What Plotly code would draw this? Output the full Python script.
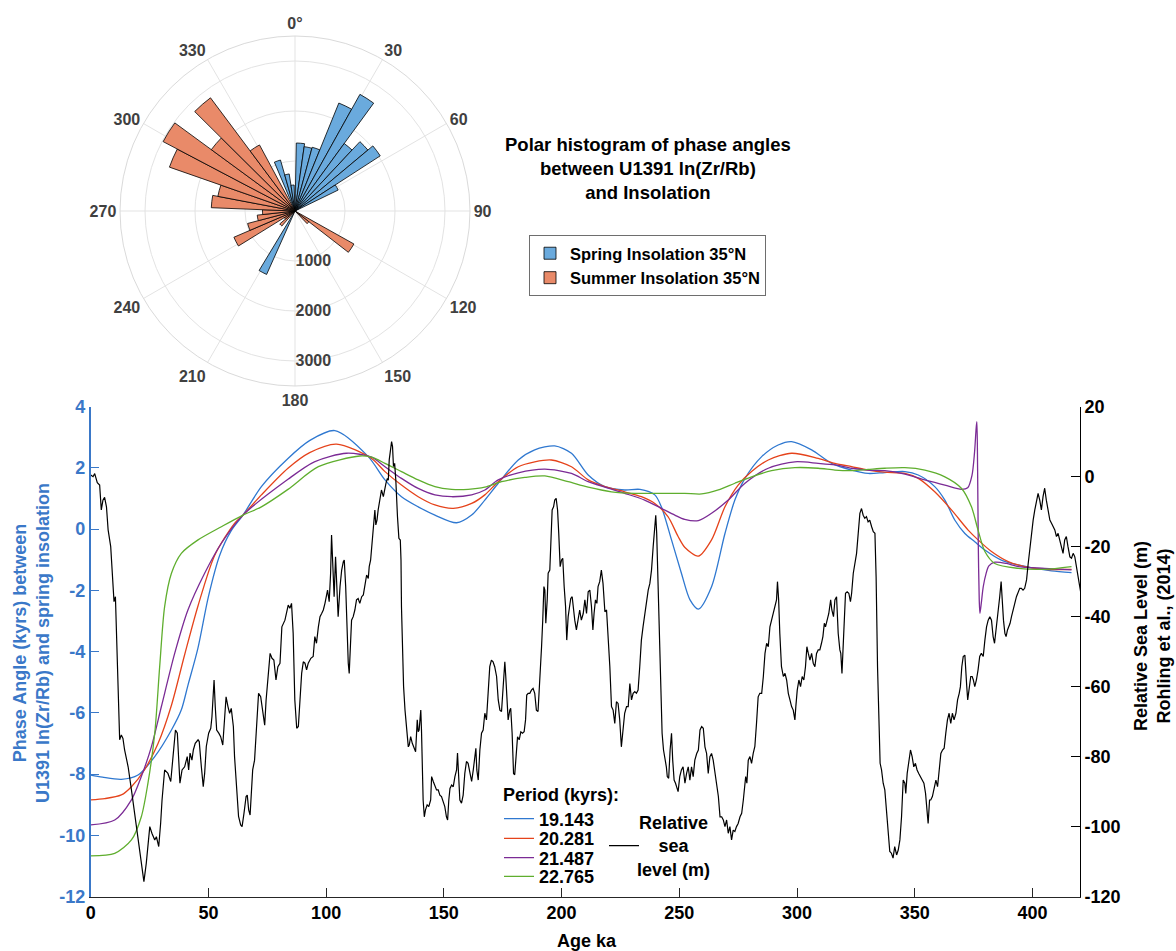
import plotly.graph_objects as go

W, H = 1176, 951
FONT = "Liberation Sans, Arial, Helvetica, sans-serif"
BLUE_AX = "#3a78c8"

# ---------------- polar histogram data (bin centre in degrees, count) ----------------
spring_bin_centers = [340.6, 347.6, 354.6, 4.6, 11.6, 18.6, 25.6, 32.6, 39.6, 46.6, 53.6, 60.6, 207.6]
spring_counts = [1060, 750, 520, 1360, 1300, 1320, 2330, 2670, 1670, 1900, 2030, 960, 1390]
spring_bin_width = 7.0

summer_bin_centers = [123.5, 132.0, 225.5, 234.0, 242.5, 251.0, 259.5, 268.0, 276.5, 285.0,
                      293.5, 302.0, 310.5, 319.0, 327.5]
summer_counts = [1350, 350, 400, 250, 1330, 980, 760, 650, 1675, 1570, 2660, 2980, 2075, 2825, 1500]
summer_bin_width = 8.5

angular_ticks = list(range(0, 360, 30))
angular_labels = ["0°"] + [str(a) for a in angular_ticks[1:]]
radial_ticks = [1000, 2000, 3000]
radial_max = 3500

# ---------------- phase-angle curves (age ka, phase kyrs) ----------------
periods = ["19.143", "20.281", "21.487", "22.765"]
period_colors = ["#2f78d0", "#e5431b", "#7b2b95", "#5fae2e"]

phase_19143 = [(0, -8.03), (5, -8.10), (13, -8.17), (20.1, -8.03), (27.2, -7.43), (34.3, -6.56),
               (38.5, -5.9), (41.3, -5.1), (45.5, -3.9), (50, -2.2), (54.8, -0.85), (59.7, -0.05),
               (64.7, 0.46), (72.5, 1.39), (83.8, 2.31), (93.1, 2.9), (103.7, 3.22), (117.9, 2.37),
               (125, 1.61), (132, 1.06), (139.1, 0.73), (146.2, 0.46), (155.4, 0.21), (161.8, 0.46),
               (167.4, 0.95), (173.1, 1.50), (181.6, 2.26), (188.6, 2.59), (197.1, 2.72), (204.2, 2.48),
               (211.3, 1.77), (218.4, 1.39), (226.8, 1.28), (233.3, 1.30), (239.6, 1.12), (242.4, 0.73),
               (246.7, -0.35), (250.9, -1.44), (254.5, -2.3), (258.1, -2.61), (263.7, -1.88),
               (269.4, -0.14), (273.6, 0.95), (277.9, 1.66), (285, 2.37), (292, 2.75), (297.7, 2.86),
               (306.2, 2.59), (314.7, 2.15), (323.2, 1.93), (330.2, 1.82), (337.3, 1.85), (345.8, 1.88),
               (351.5, 1.77), (358.5, 1.39), (362.8, 0.95), (367, 0.30), (371.3, -0.14), (375.5, -0.41),
               (379.8, -0.68), (386.8, -1.01), (393.9, -1.17), (401, -1.28), (408.1, -1.36), (416.6, -1.42)]

phase_20281 = [(0, -8.84), (6, -8.80), (13, -8.68), (17.3, -8.41), (22.9, -7.85), (28.6, -7.0),
               (34.3, -5.75), (39.9, -4.1), (45.6, -2.5), (52.7, -0.85), (61.1, 0.19), (64.7, 0.46),
               (72.5, 1.12), (83.8, 1.99), (93, 2.5), (104.4, 2.78), (119.3, 2.31), (125, 1.88),
               (132, 1.44), (139.1, 1.06), (146.2, 0.79), (154, 0.68), (161.8, 0.84), (167.4, 1.12),
               (173.1, 1.55), (181.6, 2.04), (188.6, 2.20), (195.7, 2.26), (204.2, 2.04), (211.3, 1.61),
               (218.4, 1.39), (226.8, 1.22), (233.9, 1.06), (239.6, 0.84), (245.2, 0.41), (249.5, -0.24),
               (252.4, -0.6), (258.1, -0.88), (263.7, -0.35), (269.4, 0.73), (275, 1.44), (280.7, 1.88),
               (287.8, 2.26), (297.7, 2.48), (309, 2.31), (316.1, 2.15), (323.2, 2.04), (330.2, 1.93),
               (337.3, 1.86), (345.8, 1.82), (351.5, 1.66), (358.5, 1.22), (365.6, 0.63), (372.7, -0.03),
               (376.9, -0.35), (382.6, -0.73), (389.7, -1.06), (396.7, -1.22), (405.2, -1.31), (416.6, -1.31)]

phase_21487 = [(0, -9.66), (10.2, -9.50), (17.3, -8.84), (21.5, -8.08), (25.8, -7.10), (30, -5.80),
               (35.7, -4.05), (41.3, -2.64), (48.4, -1.44), (55.5, -0.46), (64.7, 0.46), (83.8, 1.63),
               (95, 2.2), (108.7, 2.48), (119.3, 2.35), (125, 2.04), (132, 1.66), (139.1, 1.33),
               (146.2, 1.12), (153.3, 1.06), (161.8, 1.12), (167.4, 1.28), (173.1, 1.61), (181.6, 1.84),
               (192.9, 1.96), (204.2, 1.82), (211.3, 1.55), (218.4, 1.37), (226.8, 1.17), (235.3, 0.95),
               (242.4, 0.68), (248.1, 0.46), (252.3, 0.32), (258.1, 0.28), (263.7, 0.52), (270.8, 0.95),
               (277.9, 1.50), (287.8, 1.99), (299.1, 2.20), (309, 2.15), (316.1, 2.10), (323.2, 1.99),
               (330.2, 1.93), (337.3, 1.91), (345.8, 1.80), (354.3, 1.61), (362.8, 1.44), (369.9, 1.30),
               (372.5, 1.35), (374.3, 1.75), (375.4, 2.5), (376.1, 3.3), (376.4, 3.51), (376.7, 2.0),
               (377.0, -0.5), (377.4, -2.3), (377.7, -2.75), (378.3, -2.4), (379.1, -1.88), (380.3, -1.45),
               (381.5, -1.2), (384, -1.08), (389, -1.12), (393.9, -1.22), (405.2, -1.28), (416.6, -1.33)]

phase_22765 = [(0, -10.67), (10.2, -10.59), (17.3, -10.15), (21.5, -9.39), (24.3, -8.30), (27.2, -6.67),
               (29.3, -4.49), (31.4, -2.53), (34.3, -1.44), (38.5, -0.79), (45.6, -0.35), (55.5, 0.08),
               (64.7, 0.46), (72.5, 0.73), (83.8, 1.30), (96.7, 2.04), (114.3, 2.39), (119.3, 2.35),
               (125, 2.15), (132, 1.88), (139.1, 1.61), (146.2, 1.39), (153.3, 1.30), (160.3, 1.30),
               (167.4, 1.37), (174.5, 1.55), (184.4, 1.69), (192.9, 1.74), (202.8, 1.55), (211.3, 1.37),
               (221.2, 1.22), (231.1, 1.17), (241, 1.17), (252.3, 1.17), (259.5, 1.15), (266.6, 1.28),
               (273.6, 1.50), (280.7, 1.71), (289.2, 1.91), (299.1, 2.01), (309, 1.99), (316.1, 1.93),
               (323.2, 1.91), (330.2, 1.95), (337.3, 1.99), (345.8, 2.01), (354.3, 1.93), (362.8, 1.71),
               (369.9, 1.33), (374.1, 0.73), (376.9, -0.03), (379.8, -0.73), (384, -1.12), (393.9, -1.28),
               (405.2, -1.31), (416.6, -1.22)]

phase_curves = [phase_19143, phase_20281, phase_21487, phase_22765]

# ---------------- relative sea level (age ka, metres) ----------------
sea_level_0_82 = [
    (0.0, 0.5), (1.0, 0.0), (1.7, 0.9), (2.8, -1.7), (3.8, -2.4), (4.5, -9.5), (5.2, -6.7), (5.9, -5.9),
    (6.7, -8.6), (7.4, -15.2), (8.5, -20.0), (9.1, -25.7), (9.9, -35.7), (10.5, -34.3), (10.9, -44.8),
    (11.6, -60.0), (12.3, -75.2), (13.0, -73.8), (13.7, -74.8), (14.4, -78.1), (15.9, -82.9), (17.3, -89.5),
    (18.7, -96.2), (20.1, -102.9), (21.5, -110.5), (22.6, -115.7), (23.6, -110.5), (25.1, -100.0),
    (26.0, -101.9), (27.2, -103.8), (27.9, -102.9), (28.9, -105.7), (29.7, -99.1), (30.3, -92.4),
    (31.4, -83.8), (32.8, -84.8), (34.0, -87.1), (35.0, -79.0), (36.0, -72.4), (36.8, -73.3), (37.4, -81.9),
    (37.9, -87.6), (38.8, -83.8), (39.9, -82.9), (41.0, -80.0), (41.6, -83.8), (42.2, -79.0), (43.0, -81.0),
    (43.6, -78.1), (44.4, -76.2), (45.6, -75.2), (46.1, -75.7), (47.0, -82.9), (47.8, -88.6), (48.4, -84.8),
    (49.1, -77.1), (50.1, -73.3), (51.0, -71.9), (51.5, -68.6), (52.4, -58.1), (52.9, -65.7), (53.5, -72.4),
    (54.4, -73.3), (55.2, -74.3), (56.1, -76.7), (56.9, -69.5), (57.5, -62.9), (58.3, -65.7), (59.0, -67.6),
    (59.7, -66.2), (60.6, -71.4), (61.1, -80.0), (62.0, -90.5), (62.8, -97.1), (63.7, -99.5), (64.3, -100.0),
    (65.1, -96.2), (66.0, -91.4), (66.5, -91.0), (67.1, -95.2), (67.7, -96.7), (68.2, -91.4), (68.8, -83.8),
    (69.6, -81.0), (70.5, -71.4), (71.3, -61.9), (72.2, -62.9), (73.0, -66.7), (73.9, -71.0), (74.5, -63.8),
    (75.3, -57.1), (76.2, -50.5), (77.0, -51.9), (77.8, -52.4), (78.7, -58.1), (79.5, -54.3), (80.4, -53.3),
    (81.2, -42.9)]

sea_level_82_167 = [
    (82.5, -41.0), (83.2, -39.1), (83.9, -36.7), (84.6, -37.6), (85.3, -36.2), (86.0, -44.8), (86.7, -63.8),
    (87.5, -71.9), (88.2, -71.4), (88.9, -63.8), (89.6, -56.2), (90.3, -52.9), (91.0, -53.3), (91.7, -55.2),
    (92.4, -53.3), (93.5, -51.9), (94.5, -51.4), (95.2, -45.7), (95.9, -47.6), (96.7, -42.9), (97.4, -40.0),
    (98.1, -39.1), (98.8, -38.1), (99.5, -36.2), (100.2, -34.3), (100.6, -32.4), (101.3, -35.7),
    (101.9, -27.6), (102.3, -16.7), (103.0, -26.7), (103.4, -34.3), (104.0, -22.9), (104.4, -31.4),
    (105.1, -40.0), (105.9, -31.4), (106.6, -26.7), (107.3, -24.3), (107.7, -23.8), (108.3, -31.4),
    (108.8, -44.8), (109.4, -53.3), (109.8, -56.2), (110.4, -46.7), (110.8, -41.0), (111.5, -40.0),
    (112.2, -38.1), (112.9, -35.2), (113.6, -34.8), (114.3, -36.2), (115.1, -34.3), (115.8, -33.8),
    (116.5, -30.5), (117.2, -28.1), (117.9, -29.1), (118.3, -25.7), (118.9, -23.8), (119.3, -20.0),
    (119.7, -16.2), (120.3, -12.4), (120.7, -9.5), (121.1, -13.8), (121.6, -12.4), (122.1, -9.5),
    (122.8, -6.7), (123.5, -3.8), (124.3, -5.7), (125.0, -2.9), (125.4, -1.9), (126.0, -0.5), (126.4, -1.0),
    (126.8, 4.8), (127.4, 8.6), (127.8, 10.0), (128.2, 8.6), (128.6, 2.9), (129.1, 3.8), (129.6, -1.0),
    (130.3, -11.4), (130.9, -17.6), (131.5, -18.1), (131.8, -23.8), (132.0, -37.1), (132.5, -50.5),
    (132.9, -60.0), (133.5, -66.7), (134.2, -72.4), (134.9, -77.2), (135.3, -76.7), (135.9, -74.3),
    (136.6, -76.2), (137.3, -77.2), (138.0, -78.6), (138.7, -69.5), (139.1, -72.9), (139.5, -72.4),
    (140.2, -66.7), (140.5, -72.4), (140.8, -82.9), (141.2, -92.4), (141.7, -97.2), (142.2, -95.2),
    (142.9, -93.8), (143.6, -94.3), (144.4, -92.4), (144.8, -85.7), (145.5, -87.1), (146.2, -88.6),
    (146.9, -89.5), (147.6, -89.5), (148.3, -91.0), (149.0, -91.4), (149.7, -92.9), (150.4, -94.3),
    (151.1, -97.2), (151.6, -98.1), (152.1, -92.4), (152.6, -89.1), (153.3, -88.1), (154.0, -88.6),
    (154.7, -85.7), (155.4, -83.8), (155.8, -79.0), (156.1, -84.8), (156.8, -92.4), (157.5, -93.3),
    (158.2, -91.0), (158.9, -84.8), (159.6, -81.4), (160.3, -81.9), (161.1, -84.8), (161.8, -87.1),
    (162.5, -83.8), (163.2, -79.0), (163.6, -77.6), (164.0, -83.8), (164.6, -86.7), (165.3, -78.1),
    (166.0, -73.3), (166.7, -72.4), (167.4, -67.6)]

sea_level_168_252 = [
    (168.1, -69.5), (168.8, -61.9), (169.5, -54.3), (170.2, -52.4), (170.9, -52.9), (171.6, -54.3),
    (172.4, -57.1), (173.1, -63.8), (173.8, -66.7), (174.5, -67.1), (175.2, -60.0), (175.9, -52.9),
    (176.3, -57.1), (176.7, -63.8), (177.3, -69.5), (178.0, -66.7), (178.4, -66.2), (179.0, -73.3),
    (179.6, -84.8), (180.1, -85.2), (180.7, -78.1), (181.3, -74.3), (182.0, -75.2), (182.7, -72.9),
    (183.4, -73.3), (184.1, -72.9), (184.7, -69.5), (185.2, -62.4), (185.8, -61.9), (186.5, -61.9),
    (187.2, -61.0), (187.9, -60.5), (188.6, -61.9), (189.3, -66.7), (190.0, -67.1), (190.5, -61.9),
    (190.9, -55.2), (191.5, -48.6), (192.0, -41.0), (192.5, -31.4), (192.9, -32.4), (193.3, -41.9),
    (193.9, -35.2), (194.3, -27.6), (195.0, -26.7), (195.4, -18.1), (196.0, -9.5), (196.6, -8.6),
    (197.1, -6.7), (197.7, -6.2), (198.3, -9.5), (198.8, -16.2), (199.4, -25.7), (200.0, -23.8),
    (200.5, -23.3), (201.1, -31.4), (201.7, -37.1), (202.2, -46.7), (202.8, -40.0), (203.4, -37.1),
    (203.9, -34.8), (204.5, -34.3), (205.1, -39.1), (205.6, -41.0), (206.3, -43.8), (207.0, -41.0),
    (207.7, -38.1), (208.4, -41.0), (209.2, -39.1), (209.9, -35.2), (210.6, -39.1), (211.3, -32.9),
    (212.0, -32.4), (212.7, -37.1), (213.3, -43.8), (213.8, -39.1), (214.4, -35.2), (215.0, -36.2),
    (215.5, -31.4), (216.2, -30.0), (216.9, -26.7), (217.6, -30.5), (218.4, -38.6), (219.1, -38.1),
    (219.8, -44.8), (220.5, -54.3), (221.2, -65.7), (221.9, -66.7), (222.6, -70.5), (223.3, -64.3),
    (224.0, -64.8), (224.7, -69.5), (225.4, -77.2), (226.1, -72.4), (226.8, -67.6), (227.6, -65.7),
    (228.3, -65.7), (229.0, -59.1), (229.7, -63.8), (230.4, -61.9), (231.1, -61.4), (231.8, -61.9),
    (232.5, -61.0), (233.2, -54.3), (233.9, -46.7), (234.6, -42.9), (235.3, -39.1), (236.0, -35.2),
    (236.8, -32.4), (237.5, -30.5), (238.2, -26.7), (238.9, -20.0), (239.6, -13.3), (240.0, -11.0),
    (240.4, -16.2), (241.0, -31.4), (241.6, -52.4), (242.1, -64.8), (242.7, -73.3), (243.3, -78.1),
    (243.8, -80.0), (244.5, -82.9), (244.9, -85.7), (245.5, -86.2), (246.1, -78.1), (246.7, -73.3),
    (247.2, -81.0), (247.8, -86.7), (248.4, -87.6), (248.9, -88.6), (249.5, -90.0), (250.2, -85.7),
    (250.9, -83.8), (251.6, -82.9)]

sea_level_252_337 = [
    (252.4, -87.6), (253.1, -84.8), (253.8, -82.9), (254.5, -86.7), (255.2, -82.9), (255.9, -85.7),
    (256.6, -81.0), (257.4, -79.1), (258.1, -78.1), (258.8, -72.4), (259.5, -71.4), (260.2, -71.9),
    (260.9, -77.2), (261.6, -79.1), (262.3, -84.8), (263.0, -80.0), (263.7, -79.1), (264.4, -81.0),
    (265.1, -84.8), (265.8, -88.6), (266.6, -91.4), (267.3, -97.2), (268.0, -97.2), (268.7, -98.1),
    (269.4, -100.0), (270.1, -98.1), (270.8, -101.9), (271.5, -100.0), (272.2, -103.8), (272.9, -101.0),
    (273.6, -101.4), (274.3, -100.0), (275.0, -99.1), (275.8, -97.2), (276.5, -96.2), (277.2, -92.4),
    (277.6, -88.6), (278.2, -85.7), (278.7, -87.6), (279.3, -81.0), (280.0, -80.0), (280.7, -81.9),
    (281.4, -79.1), (282.1, -77.1), (282.8, -70.5), (283.5, -62.9), (284.2, -61.9), (285.0, -61.9),
    (285.7, -57.1), (286.4, -50.5), (287.1, -47.6), (287.8, -48.6), (288.5, -42.9), (289.2, -41.0),
    (289.9, -39.1), (290.6, -37.1), (291.3, -35.2), (291.7, -30.0), (292.2, -35.2), (292.7, -44.8),
    (293.4, -54.3), (294.2, -57.1), (294.9, -56.2), (295.6, -58.1), (296.3, -61.9), (297.0, -63.8),
    (297.7, -65.7), (298.4, -66.7), (299.1, -69.5), (299.5, -65.7), (300.1, -61.0), (300.8, -58.1),
    (301.5, -60.0), (302.2, -57.1), (302.9, -58.1), (303.6, -54.3), (304.2, -48.6), (304.8, -50.5),
    (305.5, -52.4), (306.2, -50.5), (306.9, -53.3), (307.6, -54.3), (308.3, -50.5), (309.0, -49.5),
    (309.7, -49.5), (310.4, -47.6), (311.0, -45.7), (311.6, -41.9), (312.1, -42.9), (312.8, -41.0),
    (313.5, -39.1), (314.3, -35.2), (314.8, -38.1), (315.5, -40.0), (316.1, -35.2), (316.8, -34.3),
    (317.5, -44.8), (318.2, -49.5), (318.6, -50.5), (319.1, -56.2), (319.6, -47.6), (320.1, -38.1),
    (320.6, -33.3), (321.3, -32.9), (322.0, -33.3), (322.7, -35.7), (323.2, -33.3), (323.9, -27.6),
    (324.6, -24.8), (325.3, -21.9), (326.0, -16.2), (326.7, -10.5), (327.4, -9.1), (328.1, -11.0),
    (328.8, -11.9), (329.5, -11.4), (330.2, -12.9), (330.9, -12.4), (331.7, -14.3), (332.4, -15.7),
    (333.1, -16.2), (333.6, -28.6), (334.2, -54.3), (334.8, -73.3), (335.3, -81.9), (335.9, -83.8),
    (336.6, -87.6), (337.3, -89.5)]

sea_level_338_421 = [
    (338.0, -95.2), (338.7, -101.9), (339.4, -107.1), (340.1, -107.6), (340.8, -109.0), (341.5, -105.7),
    (342.3, -108.1), (343.0, -106.7), (343.7, -103.8), (344.4, -97.2), (345.1, -86.7), (345.8, -87.6),
    (346.2, -90.5), (346.8, -84.8), (347.5, -81.0), (348.2, -78.1), (348.9, -80.0), (349.6, -82.9),
    (350.3, -81.9), (351.0, -83.8), (351.7, -84.8), (352.4, -85.7), (353.2, -86.7), (353.9, -87.6),
    (354.6, -90.5), (355.1, -95.2), (355.7, -99.1), (356.3, -92.4), (356.8, -92.4), (357.5, -91.4),
    (358.2, -89.5), (359.0, -86.7), (359.7, -88.6), (360.4, -83.8), (361.1, -79.1), (361.8, -78.1),
    (362.5, -77.6), (363.2, -73.3), (363.9, -69.5), (364.6, -67.6), (365.3, -70.5), (366.0, -67.6),
    (366.7, -69.5), (367.5, -67.6), (368.2, -63.8), (368.9, -61.9), (369.4, -60.0), (370.0, -54.3),
    (370.6, -51.4), (371.3, -51.0), (371.7, -54.3), (372.1, -60.0), (372.5, -63.8), (373.1, -61.0),
    (373.8, -57.1), (374.4, -57.1), (374.9, -58.1), (375.5, -60.0), (376.2, -58.1), (376.9, -55.2),
    (377.6, -51.4), (378.3, -50.5), (379.1, -51.4), (379.8, -46.7), (380.5, -42.9), (381.2, -41.0),
    (381.9, -40.0), (382.6, -41.0), (383.3, -45.7), (383.9, -47.6), (384.4, -44.8), (385.0, -41.0),
    (385.6, -38.1), (386.1, -34.3), (386.7, -30.0), (387.1, -35.2), (387.7, -41.0), (388.3, -44.8),
    (388.8, -45.7), (389.4, -43.8), (389.9, -42.9), (390.5, -41.9), (391.1, -40.0), (391.8, -37.6),
    (392.5, -36.2), (393.2, -34.3), (393.9, -32.9), (394.6, -31.9), (395.3, -31.9), (396.0, -32.4),
    (396.7, -31.9), (397.5, -29.5), (398.2, -24.8), (398.9, -20.0), (399.6, -17.1), (400.3, -12.4),
    (401.0, -9.5), (401.7, -6.7), (402.4, -4.8), (403.1, -6.7), (403.8, -9.5), (404.5, -5.7),
    (405.2, -3.3), (405.9, -6.7), (406.7, -10.5), (407.4, -12.4), (408.1, -13.3), (408.8, -14.3),
    (409.5, -15.2), (410.2, -17.1), (410.9, -16.2), (411.6, -18.1), (412.3, -20.0), (413.0, -21.9),
    (413.7, -18.1), (414.4, -17.1), (415.1, -20.0), (415.9, -22.9), (416.6, -23.3), (417.3, -21.9),
    (418.0, -22.9), (418.7, -25.7), (419.4, -28.6), (420.1, -32.4), (420.8, -34.3)]

sea_level = sea_level_0_82 + sea_level_82_167 + sea_level_168_252 + sea_level_252_337 + sea_level_338_421

# ---------------- axes ticks ----------------
x_ticks = list(range(0, 401, 50))
left_ticks = list(range(-12, 5, 2))
left_tick_labels = [str(v) for v in left_ticks]
right_ticks = list(range(-120, 21, 20))
right_tick_labels = [str(v) for v in right_ticks]


def px(x):
    return x / W


def py(y):
    return 1 - y / H


def font(size, color="black"):
    return dict(family=FONT, size=size, color=color, weight="bold")


fig = go.Figure()

fig.add_trace(go.Barpolar(
    r=spring_counts, theta=spring_bin_centers, width=[spring_bin_width] * len(spring_counts),
    marker=dict(color="#6aaadd", line=dict(color="black", width=0.8)),
    name="Spring Insolation 35°N", legend="legend", subplot="polar"))
fig.add_trace(go.Barpolar(
    r=summer_counts, theta=summer_bin_centers, width=[summer_bin_width] * len(summer_counts),
    marker=dict(color="#e98a69", line=dict(color="black", width=0.8)),
    name="Summer Insolation 35°N", legend="legend", subplot="polar"))

# one small legend per period so the rows can sit as tightly as in the reference
period_legends = ["legend2", "legend3", "legend4", "legend5"]
period_rows_y = [819, 838.7, 858, 876.7]
for name, color, curve, lg in zip(periods, period_colors, phase_curves, period_legends):
    fig.add_trace(go.Scatter(
        x=[a for a, _ in curve], y=[v for _, v in curve], mode="lines",
        line=dict(color=color, width=1.3, shape="spline", smoothing=0.8),
        name=name, legend=lg, xaxis="x", yaxis="y"))

fig.add_trace(go.Scatter(
    x=[a for a, _ in sea_level], y=[m for _, m in sea_level], mode="lines",
    line=dict(color="black", width=1.2), name=" ", legend="legend6", xaxis="x", yaxis="y2"))

legend_layout = {}
for lg, ycen in zip(period_legends, period_rows_y):
    legend_layout[lg] = dict(x=px(499), y=py(ycen), xanchor="left", yanchor="middle",
                             bgcolor="rgba(0,0,0,0)", borderwidth=0, font=font(18))

fig.update_layout(
    width=W, height=H, margin=dict(l=0, r=0, t=0, b=0),
    paper_bgcolor="white", plot_bgcolor="white", showlegend=True,
    font=dict(family=FONT, color="black"),
    polar=dict(
        domain=dict(x=[px(120), px(470)], y=[py(386), py(36)]),
        bgcolor="white", hole=0,
        angularaxis=dict(rotation=90, direction="clockwise", tickmode="array",
                         tickvals=angular_ticks, ticktext=angular_labels, ticks="",
                         showgrid=True, gridcolor="#e3e3e3", gridwidth=1,
                         showline=True, linecolor="#dadada", linewidth=1,
                         tickfont=font(16, "#404040")),
        radialaxis=dict(range=[0, radial_max], tickmode="array", tickvals=radial_ticks,
                        ticktext=[str(t) for t in radial_ticks], ticks="", showline=False,
                        showgrid=True, gridcolor="#e3e3e3", angle=270, side="counterclockwise",
                        tickangle=-90, tickfont=font(16, "#404040")),
    ),
    xaxis=dict(domain=[px(90.7), px(1080)], range=[0, 420.2], tickmode="array", tickvals=x_ticks,
               ticktext=[str(t) for t in x_ticks], ticks="inside", ticklen=9, tickcolor="#262626",
               showline=True, linecolor="#262626", linewidth=1, showgrid=False, zeroline=False,
               tickfont=font(18), anchor="y", automargin=False),
    yaxis=dict(domain=[py(896.6), py(406.7)], range=[-12, 4], tickmode="array", tickvals=left_ticks,
               ticktext=left_tick_labels, ticks="inside", ticklen=9, tickcolor=BLUE_AX,
               showline=True, linecolor=BLUE_AX, linewidth=1.5, showgrid=False, zeroline=False,
               tickfont=font(18, BLUE_AX), anchor="x", automargin=False),
    yaxis2=dict(range=[-120, 20], overlaying="y", side="right", anchor="x", tickmode="array",
                tickvals=right_ticks, ticktext=right_tick_labels, ticks="inside", ticklen=9,
                tickcolor="black", showline=True, linecolor="black", linewidth=1, showgrid=False,
                zeroline=False, tickfont=font(18), automargin=False),
    legend=dict(x=px(529), y=py(235), xanchor="left", yanchor="top", bgcolor="white",
                bordercolor="#6e6e6e", borderwidth=1, font=font(16.5), tracegroupgap=0),
    legend6=dict(x=px(604), y=py(846), xanchor="left", yanchor="middle",
                 bgcolor="rgba(0,0,0,0)", borderwidth=0, font=font(18)),
    annotations=[
        dict(text="Polar histogram of phase angles<br>between U1391 ln(Zr/Rb)<br>and Insolation",
             x=px(648), y=py(168), xref="paper", yref="paper", showarrow=False,
             xanchor="center", yanchor="middle", align="center", font=font(18.5)),
        dict(text="Age ka", x=px(587), y=py(941), xref="paper", yref="paper", showarrow=False,
             xanchor="center", yanchor="middle", font=font(18)),
        dict(text="Phase Angle (kyrs) between<br>U1391 ln(Zr/Rb) and spring insolation",
             x=px(31), y=py(643), xref="paper", yref="paper", showarrow=False, textangle=-90,
             xanchor="center", yanchor="middle", align="center", font=font(18, BLUE_AX)),
        dict(text="Relative Sea Level (m)<br>Rohling et al., (2014)",
             x=px(1152), y=py(636), xref="paper", yref="paper", showarrow=False, textangle=-90,
             xanchor="center", yanchor="middle", align="center", font=font(18)),
        dict(text="Period (kyrs):", x=px(501), y=py(795), xref="paper", yref="paper",
             showarrow=False, xanchor="left", yanchor="middle", font=font(18)),
        dict(text="Relative<br>sea<br>level (m)", x=px(673), y=py(846), xref="paper", yref="paper",
             showarrow=False, xanchor="center", yanchor="middle", align="center", font=font(18)),
    ],
)
fig.update_layout(**legend_layout)

fig.write_html("out.html")
